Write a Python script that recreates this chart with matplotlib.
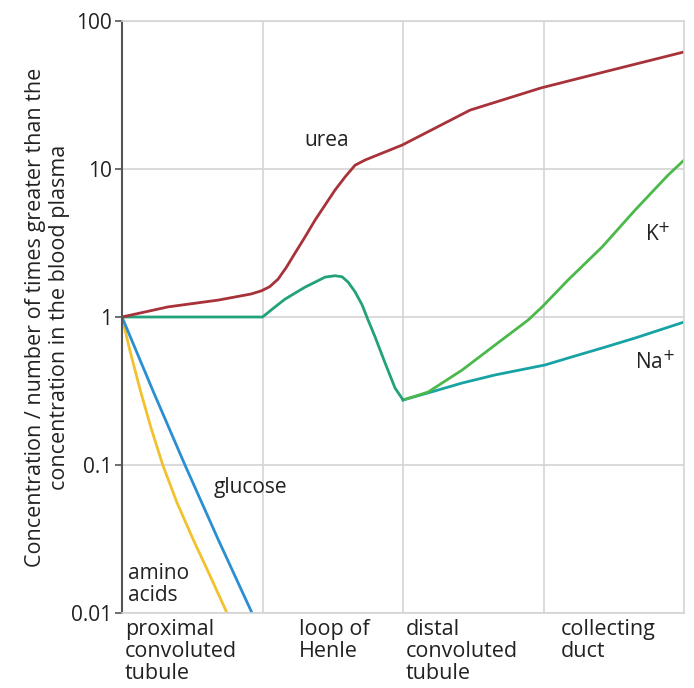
import matplotlib.pyplot as plt

plt.rcParams['font.family'] = ['Open Sans', 'DejaVu Sans']

# values (x: 0-4 across the four nephron regions)
segments = ['proximal\nconvoluted\ntubule', 'loop of\nHenle',
            'distal\nconvoluted\ntubule', 'collecting\nduct']
segment_label_x = [0.02, 1.26, 2.02, 3.12]

ytick_vals = [0.01, 0.1, 1, 10, 100]
ytick_labels = ['0.01', '0.1', '1', '10', '100']

urea_x = [0, 0.327, 0.683, 0.918, 0.990, 1.05, 1.110, 1.170, 1.231, 1.302,
          1.374, 1.445, 1.516, 1.587, 1.658, 1.730, 1.851, 1.993, 2.477,
          2.982, 3.488, 4.0]
urea_y = [1.0, 1.17, 1.30, 1.43, 1.50, 1.60, 1.80, 2.17, 2.70, 3.47,
          4.52, 5.71, 7.21, 8.83, 10.6, 11.5, 12.8, 14.5, 25.0,
          35.3, 46.7, 61.8]

# K+ and Na+ follow the same path up to the end of the loop of Henle
ion_x = [0, 1.0, 1.089, 1.160, 1.231, 1.302, 1.374, 1.445, 1.516, 1.566,
         1.609, 1.658, 1.708, 1.751, 1.801, 1.872, 1.943, 2.0]
ion_y = [1.0, 1.0, 1.17, 1.32, 1.45, 1.59, 1.72, 1.86, 1.90, 1.87,
         1.72, 1.48, 1.21, 0.954, 0.733, 0.489, 0.331, 0.275]

k_x = [2.0, 2.178, 2.420, 2.655, 2.890, 2.989, 3.174, 3.416, 3.651, 3.886, 4.0]
k_y = [0.275, 0.311, 0.438, 0.647, 0.954, 1.169, 1.778, 2.97, 5.28, 9.1, 11.5]

na_x = [2.0, 2.178, 2.420, 2.655, 3.01, 3.174, 3.416, 3.651, 4.0]
na_y = [0.275, 0.307, 0.358, 0.406, 0.474, 0.528, 0.617, 0.721, 0.925]

glucose_x = [0, 0.221, 0.448, 0.683, 0.925]
glucose_y = [1.0, 0.316, 0.1, 0.0316, 0.01]

amino_x = [0, 0.055, 0.13, 0.205, 0.29, 0.39, 0.505, 0.627, 0.747]
amino_y = [1.0, 0.6, 0.32, 0.18, 0.1, 0.056, 0.0316, 0.0178, 0.01]

fig = plt.figure(figsize=(6.94, 6.88), dpi=100)
ax = fig.add_axes([0.1758, 0.109, 0.81, 0.8605])

lw = 2.0
ax.plot(amino_x, amino_y, color='#f2c12e', lw=lw)
ax.plot(glucose_x, glucose_y, color='#2a8fd2', lw=lw)
ax.plot(na_x, na_y, color='#17a3a3', lw=lw)
ax.plot(k_x, k_y, color='#4bb84a', lw=lw)
ax.plot(ion_x, ion_y, color='#21a27a', lw=lw)
ax.plot(urea_x, urea_y, color='#a8323a', lw=lw)

ax.set_yscale('log')
ax.set_ylim(0.01, 100)
ax.set_xlim(0, 4)
ax.set_yticks(ytick_vals)
ax.set_yticklabels(ytick_labels)
ax.minorticks_off()
ax.set_xticks([1, 2, 3])
ax.set_xticklabels([])
ax.tick_params(axis='x', length=0)
ax.tick_params(axis='y', length=5, width=1.2, color='#555555',
               labelsize=15, pad=2, labelcolor='#222222')
ax.grid(True, color='#d4d4d4', lw=1.2)
ax.set_axisbelow(True)

for side in ['top', 'right', 'bottom']:
    ax.spines[side].set_color('#d4d4d4')
    ax.spines[side].set_linewidth(1.2)
ax.spines['left'].set_color('#555555')
ax.spines['left'].set_linewidth(1.5)

ax.set_ylabel('Concentration / number of times greater than the\n'
              'concentration in the blood plasma',
              fontsize=15.5, color='#222222', linespacing=1.2, labelpad=1)

for lbl, xpos in zip(segments, segment_label_x):
    ax.text(xpos, -0.010, lbl, transform=ax.get_xaxis_transform(),
            ha='left', va='top', fontsize=15.5, color='#222222',
            linespacing=1.05)

ax.text(1.46, 15.5, 'urea', ha='center', va='center', fontsize=15, color='#222222')
ax.text(0.65, 0.071, 'glucose', ha='left', va='center', fontsize=15, color='#222222')
ax.text(0.04, 0.0155, 'amino\nacids', ha='left', va='center', fontsize=15,
        color='#222222', linespacing=1.05)
ax.text(3.72, 3.6, 'K$^{+}$', ha='left', va='center', fontsize=15, color='#222222')
ax.text(3.65, 0.49, 'Na$^{+}$', ha='left', va='center', fontsize=15, color='#222222')

fig.savefig('out.png', dpi=100)
